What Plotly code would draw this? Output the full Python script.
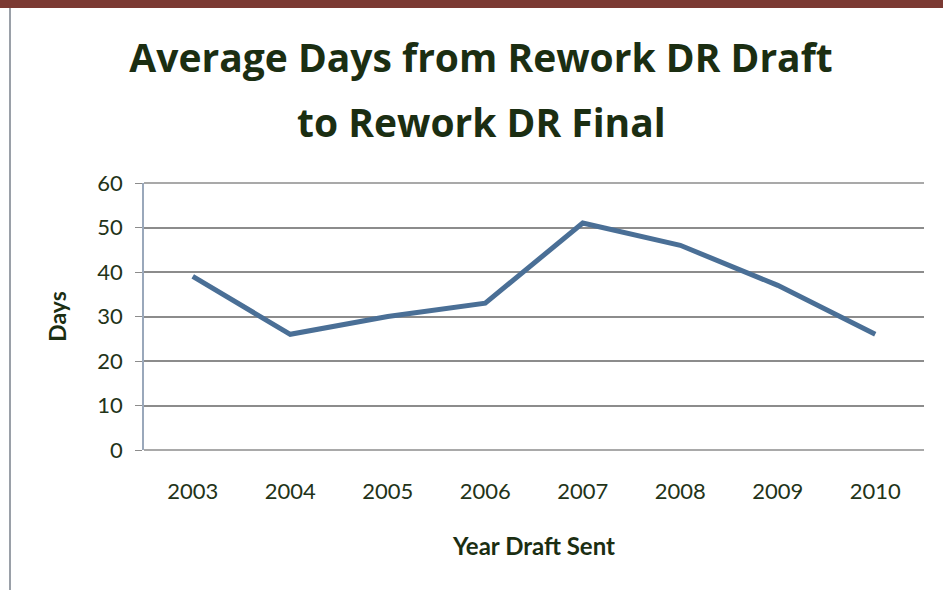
import plotly.graph_objects as go

years = ["2003", "2004", "2005", "2006", "2007", "2008", "2009", "2010"]
days = [39, 26, 30, 33, 51, 46, 37, 26]
y_ticks = [0, 10, 20, 30, 40, 50, 60]
title_lines = ["Average Days from Rework DR Draft", "to Rework DR Final"]

W, H = 943, 590
L, R, T, B = 144, 19, 183, 140
pw, ph = W - L - R, H - T - B

def px(x):
    return (x - L) / pw

def py(y):
    return (H - B - y) / ph

txt = "#233318"
title_col = "#1b2e12"
title_font = dict(family="Open Sans", size=39, color=title_col)

fig = go.Figure()
fig.add_trace(go.Scatter(x=years, y=days, mode="lines",
                         line=dict(color="#4a6f96", width=5), showlegend=False))

fig.update_layout(
    width=W, height=H, autosize=False,
    margin=dict(l=L, r=R, t=T, b=B),
    paper_bgcolor="white", plot_bgcolor="white",
    font=dict(family="Lato", color=txt),
    title=dict(text="<b>" + title_lines[0] + "</b>",
               x=481 / W, xanchor="center", y=1 - 58 / H, yanchor="middle",
               font=title_font),
    annotations=[
        dict(text="<b>" + title_lines[1] + "</b>", xref="paper", yref="paper",
             x=px(481), y=py(121), xanchor="center", yanchor="middle",
             showarrow=False, font=title_font),
    ],
    xaxis=dict(type="category", range=[-0.5, 7.5], showgrid=False, showline=False,
               ticks="", tickfont=dict(size=22, color=txt), ticklabelstandoff=26,
               title=dict(text="<b>Year Draft Sent</b>", font=dict(size=24, color=title_col),
                          standoff=35)),
    yaxis=dict(range=[0, 60], tickvals=y_ticks, showgrid=True, gridcolor="#8c8c8c",
               gridwidth=1.5, showline=True, linecolor="#9aa8bb", linewidth=1.5,
               ticks="outside", ticklen=7, tickcolor="#8c8c8c", ticklabelstandoff=8,
               tickfont=dict(size=22, color=txt), zeroline=False,
               title=dict(text="<b>Days</b>", font=dict(size=23, color=title_col),
                          standoff=24)),
    shapes=[
        dict(type="rect", xref="paper", yref="paper", x0=px(0), x1=px(W), y0=py(0), y1=py(8),
             fillcolor="#7b3a33", line=dict(width=0), layer="above"),
        dict(type="line", xref="paper", yref="paper", x0=px(10), x1=px(10), y0=py(8), y1=py(H),
             line=dict(color="#9aa0a8", width=2)),
        dict(type="line", xref="paper", yref="paper", x0=0, x1=1, y0=0, y1=0,
             line=dict(color="#8c8c8c", width=1.5)),
        dict(type="line", xref="paper", yref="paper", x0=0, x1=1, y0=1, y1=1,
             line=dict(color="#8c8c8c", width=1.5)),
    ],
)

fig.write_html("out.html")
